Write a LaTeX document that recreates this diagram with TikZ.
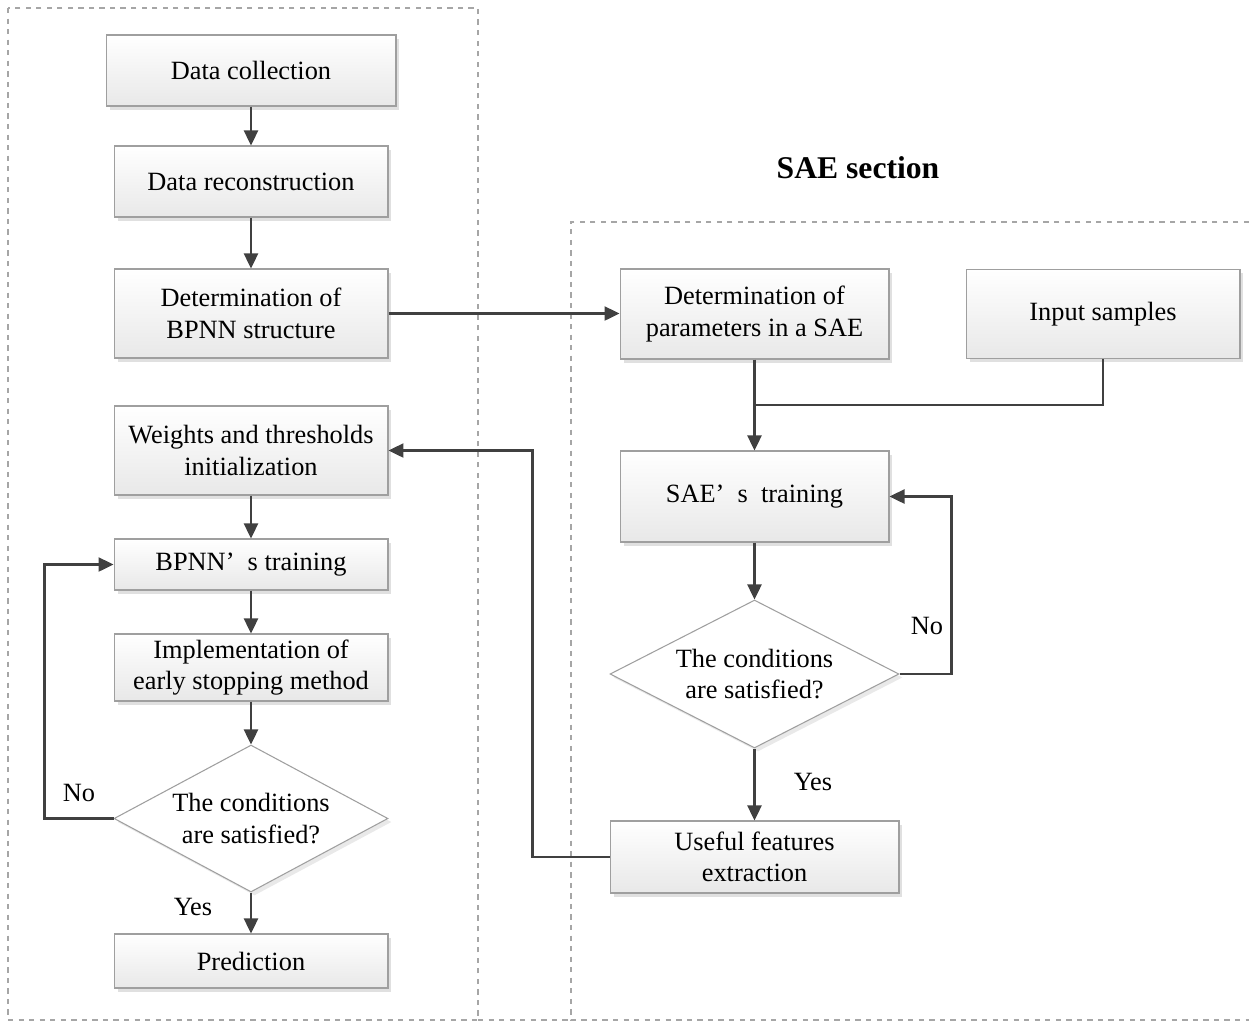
\documentclass[tikz,border=0pt]{standalone}
\usepackage{fontspec}
\setmainfont{Liberation Serif}
\usetikzlibrary{shapes.geometric,shadows,arrows.meta}
\tikzset{
  flow box/.style={
    draw=gray!75, line width=0.6pt, rectangle, align=center,
    top color=white, bottom color=gray!18,
    drop shadow={shadow xshift=2pt, shadow yshift=-2pt, opacity=0.35, fill=gray!70},
    font=\fontsize{15}{18}\selectfont, inner sep=2pt
  },
  flow diamond/.style={
    draw=gray!75, line width=0.6pt, diamond, align=center, fill=white,
    drop shadow={shadow xshift=2pt, shadow yshift=-2pt, opacity=0.25, fill=gray!70},
    font=\fontsize{15}{18}\selectfont, inner sep=0pt
  },
  flow line/.style={draw=black!75, line width=1.4pt},
  flow arrow/.style={flow line, -{Triangle[length=0.3cm,width=0.28cm]}},
  dash frame/.style={draw=gray!70, dashed, line width=0.6pt},
  flow label/.style={font=\fontsize{15}{18}\selectfont}
}
\begin{document}
\begin{tikzpicture}[x=0.02cm, y=-0.02cm]
\useasboundingbox (0,0) rectangle (1249,1022);

% frames
\draw[dash frame] (8,8) rectangle (478,1020);
\draw[dash frame] (1249,222) -- (571,222) -- (571,1020) -- (1249,1020);
\draw[dash frame] (478,1020) -- (571,1020);
\node[font=\fontsize{18}{20}\selectfont\bfseries] (title) at (858,168) {SAE section};

% BPNN side
\node[flow box, minimum width=5.8cm, minimum height=1.42cm] (collect) at (251,70.5) {Data collection};
\node[flow box, minimum width=5.48cm, minimum height=1.42cm] (recon) at (251,181.5) {Data reconstruction};
\node[flow box, minimum width=5.48cm, minimum height=1.78cm] (struct) at (251,313.5) {Determination of\\BPNN structure};
\node[flow box, minimum width=5.48cm, minimum height=1.78cm] (weights) at (251,450.5) {Weights and thresholds\\initialization};
\node[flow box, minimum width=5.48cm, minimum height=1.02cm] (bptrain) at (251,564.5) {BPNN’\enspace s training};
\node[flow box, minimum width=5.48cm, minimum height=1.34cm] (early) at (251,667.5) {Implementation of\\early stopping method};
\node[flow diamond, minimum width=5.48cm, minimum height=2.94cm, aspect=1.86] (bpcheck) at (251,818.5) {The conditions\\are satisfied?};
\node[flow box, minimum width=5.48cm, minimum height=1.08cm] (predict) at (251,961) {Prediction};

% SAE side
\node[flow box, minimum width=5.38cm, minimum height=1.8cm] (param) at (754.5,314) {Determination of\\parameters in a SAE};
\node[flow box, minimum width=5.48cm, minimum height=1.78cm] (input) at (1103,314) {Input samples};
\node[flow box, minimum width=5.38cm, minimum height=1.82cm] (saetrain) at (754.5,496.5) {SAE’\enspace s\enspace training};
\node[flow diamond, minimum width=5.78cm, minimum height=2.96cm, aspect=1.95] (saecheck) at (754.5,674) {The conditions\\are satisfied?};
\node[flow box, minimum width=5.78cm, minimum height=1.44cm] (useful) at (754.5,857) {Useful features\\extraction};
\coordinate (join) at (754.5,405);

% connectors
\draw[flow arrow] (collect) -- (recon);
\draw[flow arrow] (recon) -- (struct);
\draw[flow arrow] (struct.east) -- (struct.east -| param.west);
\draw[flow line] (param.south) -- (join);
\draw[flow line] (input.south) |- (join);
\draw[flow arrow] (join) -- (saetrain.north);
\draw[flow arrow] (saetrain) -- (saecheck.north);
\draw[flow arrow] (saecheck.east) -- ++(52,0) |- (saetrain.east);
\draw[flow arrow] (saecheck.south) -- (useful.north);
\draw[flow arrow] (useful.west) -- ++(-77,0) |- (weights.east);
\draw[flow arrow] (weights) -- (bptrain);
\draw[flow arrow] (bptrain) -- (early);
\draw[flow arrow] (early) -- (bpcheck.north);
\draw[flow arrow] (bpcheck.south) -- (predict.north);
\draw[flow arrow] (bpcheck.west) -- ++(-69,0) |- (bptrain.west);

% labels
\node[flow label] (saeno) at (927,626) {No};
\node[flow label] (saeyes) at (813,782) {Yes};
\node[flow label] (bpno) at (79,793) {No};
\node[flow label] (bpyes) at (193,907) {Yes};
\end{tikzpicture}
\end{document}
